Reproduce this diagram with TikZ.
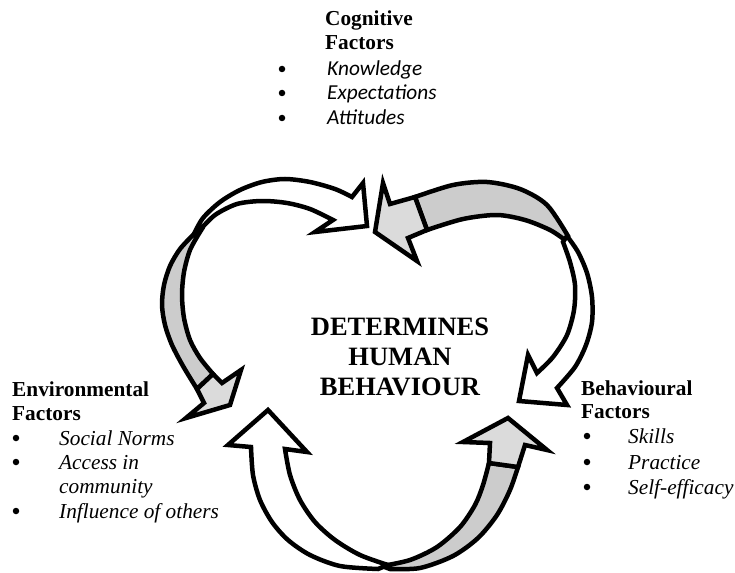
\documentclass[tikz,border=0pt]{standalone}
\usepackage{fontspec}
\setmainfont{Liberation Serif}
\newfontfamily\calibrifont{Carlito}
\begin{document}
\begin{tikzpicture}[x=1pt,y=-1pt,
  arrowline/.style={draw=black,line width=4.5pt,line join=miter,miter limit=10},
  whitearrow/.style={arrowline,fill=white},
  greybody/.style={arrowline,fill=gray!40},
  greyhead/.style={arrowline,fill=gray!28},
  lbl/.style={anchor=base west,inner sep=0pt,font=\fontsize{21.3}{24}\selectfont},
  hdr/.style={lbl,font=\fontsize{21.3}{24}\selectfont\bfseries},
  bul/.style={circle,fill=black,inner sep=0pt,minimum size=6.5pt},
  center/.style={anchor=base,inner sep=0pt,font=\fontsize{26.5}{30}\selectfont\bfseries}]
\useasboundingbox (0,0) rectangle (735,572);

% ---------- left pair ----------
% grey arrow (left, pointing down-right)
\draw[greybody] plot[smooth] coordinates {(194,234) (180,249) (170,266) (164,285) (162,305) (165,325) (172,345) (183,366) (197,389)}
  -- plot[smooth] coordinates {(213,374) (200,358) (190,340) (184,318) (182,295) (184,272) (190,250) (200,232)} -- cycle;
\draw[greyhead] (197,389) -- (204,403) -- (186,418) -- (230,405) -- (241,370) -- (222,383) -- (213,374) -- cycle;
% white arrow (top-left, pointing right)
\draw[whitearrow] plot[smooth] coordinates {(194,234) (203,218) (220,202) (240,190) (262,182) (285,179) (310,182) (335,189) (352,197)}
  -- (363,183) -- (367,226) -- (315,232)
  -- plot[smooth] coordinates {(333,220) (310,209) (287,203) (262,201) (237,204) (215,215) (200,230)} -- cycle;

% ---------- right pair ----------
% grey arrow (top-right, pointing left)
\draw[greybody] plot[smooth] coordinates {(415,197) (453,185) (487,182) (520,189) (547,205) (568,236)}
  -- plot[smooth] coordinates {(565,240) (550,230) (525,220) (497,215) (463,219) (427,230)} -- cycle;
\draw[greyhead] (415,197) -- (390,204) -- (383,183) -- (375,232) -- (417,261) -- (408,238) -- (427,230) -- cycle;
% white arrow (right, pointing down-left)
\draw[whitearrow] plot[smooth] coordinates {(567,236) (578,252) (587,273) (592,297) (592,322) (586,345) (575,367) (557,388)}
  -- (567,405) -- (519,401) -- (528,355)
  -- plot[smooth] coordinates {(537,373) (553,357) (567,335) (574,310) (575,285) (570,262) (563,242)} -- cycle;

% ---------- bottom pair ----------
% grey arrow (bottom-right, pointing up)
\draw[greybody] plot[smooth] coordinates {(489,463) (483,485) (475,505) (460,527) (437,547) (410,560) (382,566)}
  -- plot[smooth] coordinates {(390,569) (420,568) (453,556) (478,538) (497,515) (510,490) (518,467)} -- cycle;
\draw[greyhead] (489,463) -- (490,443) -- (463,442) -- (508,418) -- (547,450) -- (525,445) -- (518,467) -- cycle;
% white arrow (bottom-left, pointing up)
\draw[whitearrow] (251,447) -- (228,445) -- (268,410) -- (307,452)
  -- plot[smooth] coordinates {(285,449) (290,475) (300,500) (315,522) (335,540) (360,555) (388,565)}
  -- plot[smooth] coordinates {(378,569) (340,566) (310,555) (288,540) (272,522) (260,500) (253,475) (251,447)} -- cycle;

% ---------- centre text ----------
\node[center] (c1) at (400,335) {DETERMINES};
\node[center] (c2) at (400,365) {HUMAN};
\node[center] (c3) at (400,395) {BEHAVIOUR};

% ---------- cognitive ----------
\node[hdr] (cogA) at (325,26) {Cognitive};
\node[hdr] (cogB) at (325,50) {Factors};
\node[bul] (cb1) at (282,69) {};
\node[bul] (cb2) at (282,93) {};
\node[bul] (cb3) at (282,118) {};
\node[lbl] (ci1) at (327,76) {\calibrifont\itshape Knowledge};
\node[lbl] (ci2) at (327,100) {\calibrifont\itshape Expectations};
\node[lbl] (ci3) at (327,125) {\calibrifont\itshape Attitudes};

% ---------- environmental ----------
\node[hdr] (envA) at (12,396) {Environmental};
\node[hdr] (envB) at (12,420) {Factors};
\node[bul] (eb1) at (16,438) {};
\node[bul] (eb2) at (16,462) {};
\node[bul] (eb3) at (16,511) {};
\node[lbl] (ei1) at (59,445) {\itshape Social Norms};
\node[lbl] (ei2) at (59,469) {\itshape Access in};
\node[lbl] (ei2b) at (59,493) {\itshape community};
\node[lbl] (ei3) at (59,518) {\itshape Influence of others};

% ---------- behavioural ----------
\node[hdr] (behA) at (581,395) {Behavioural};
\node[hdr] (behB) at (581,418) {Factors};
\node[bul] (bb1) at (587,436) {};
\node[bul] (bb2) at (587,462) {};
\node[bul] (bb3) at (587,487) {};
\node[lbl] (bi1) at (628,443) {\itshape Skills};
\node[lbl] (bi2) at (628,469) {\itshape Practice};
\node[lbl] (bi3) at (628,494) {\itshape Self-efficacy};
\end{tikzpicture}
\end{document}
